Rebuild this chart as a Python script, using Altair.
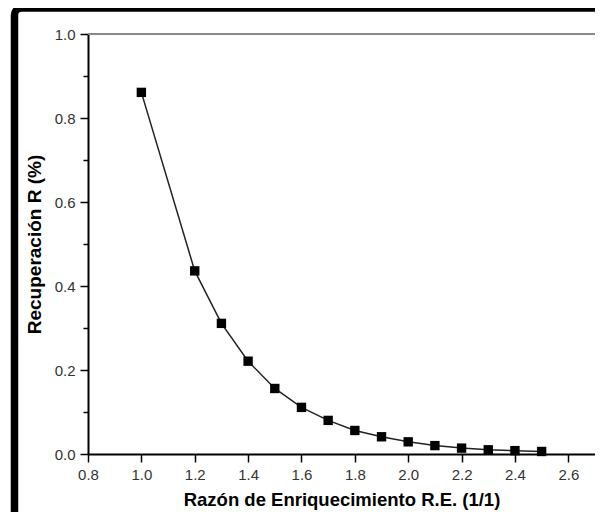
import altair as alt
import pandas as pd

# Data
razon = [1.0, 1.2, 1.3, 1.4, 1.5, 1.6, 1.7, 1.8, 1.9, 2.0, 2.1, 2.2, 2.3, 2.4, 2.5]
recuperacion = [0.861, 0.436, 0.311, 0.221, 0.156, 0.111, 0.080, 0.056, 0.041,
                0.029, 0.020, 0.014, 0.010, 0.008, 0.006]
x_ticks = [0.8, 0.9, 1.0, 1.1, 1.2, 1.3, 1.4, 1.5, 1.6, 1.7, 1.8, 1.9, 2.0,
           2.1, 2.2, 2.3, 2.4, 2.5, 2.6]
y_ticks = [0.0, 0.1, 0.2, 0.3, 0.4, 0.5, 0.6, 0.7, 0.8, 0.9, 1.0]

x_title = "Razón de Enriquecimiento R.E. (1/1)"
y_title = "Recuperación R (%)"

df = pd.DataFrame({"x": razon, "y": recuperacion})

FONT = "Liberation Sans, Arial, sans-serif"
MAJOR = "abs(datum.value*5 - round(datum.value*5)) < 0.001"

x_scale = alt.Scale(domain=[0.8, 2.7], nice=False, zero=False)
y_scale = alt.Scale(domain=[0.0, 1.0], nice=False, zero=False)

x_axis = alt.Axis(
    title=x_title, values=x_ticks,
    labelExpr=f"{MAJOR} ? format(datum.value, '.1f') : ''",
    labelOverlap=False, labelFlush=False,
    tickSize={"condition": {"test": MAJOR, "value": 8}, "value": 5},
    tickWidth=1.5, tickColor="black",
    domainColor="black", domainWidth=2,
    labelFont=FONT, labelFontSize=15, labelColor="#333", labelPadding=5,
    titleFont=FONT, titleFontSize=18.5, titleFontWeight="bold", titleColor="black",
    titlePadding=8, grid=False,
)
y_axis = alt.Axis(
    title=y_title, values=y_ticks,
    labelExpr=f"{MAJOR} ? format(datum.value, '.1f') : ''",
    labelOverlap=False, labelFlush=False,
    tickSize={"condition": {"test": MAJOR, "value": 8}, "value": 5},
    tickWidth=1.5, tickColor="black",
    domainColor="black", domainWidth=2,
    labelFont=FONT, labelFontSize=15, labelColor="#333", labelPadding=5,
    titleFont=FONT, titleFontSize=19, titleFontWeight="bold", titleColor="black",
    titlePadding=10, grid=False,
)

base = alt.Chart(df)

line = base.mark_line(color="#222", strokeWidth=1.5).encode(
    x=alt.X("x:Q", scale=x_scale, axis=x_axis),
    y=alt.Y("y:Q", scale=y_scale, axis=y_axis),
)
points = base.mark_point(shape="square", filled=True, color="black", size=88, opacity=1).encode(
    x=alt.X("x:Q", scale=x_scale),
    y=alt.Y("y:Q", scale=y_scale),
)
top_rule = alt.Chart(pd.DataFrame({"v": [1.0]})).mark_rule(color="#888", strokeWidth=2).encode(
    y=alt.Y("v:Q", scale=y_scale),
)
frame = alt.Chart(pd.DataFrame({"a": [0]})).mark_rect(
    fillOpacity=0, stroke="black", strokeWidth=7.5, cornerRadius=7
).encode(
    x=alt.value(-73.5), x2=alt.value(700), y=alt.value(-26), y2=alt.value(600),
)

chart = alt.layer(top_rule, line, points, frame).properties(
    width=507, height=420,
    autosize=alt.AutoSizeParams(type="none"),
    padding={"left": 80, "top": 26, "right": 0, "bottom": 58},
).configure_view(stroke=None).configure(background="white")

chart.save("out.html", embed_options={"renderer": "svg", "actions": False})
